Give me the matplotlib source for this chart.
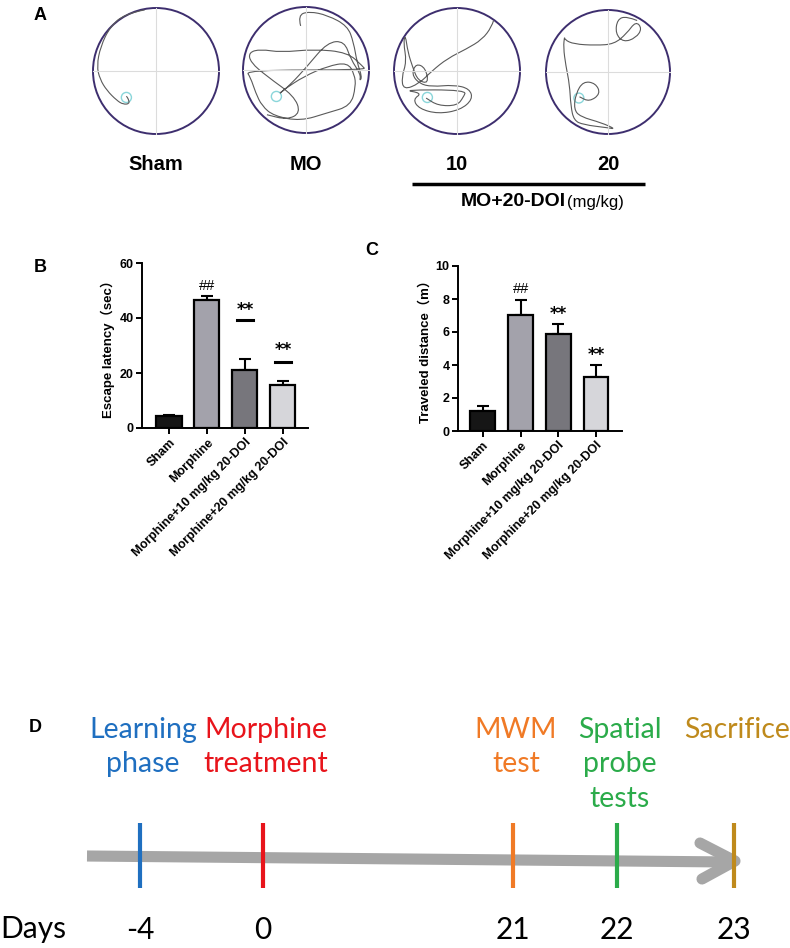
import matplotlib
matplotlib.use('Agg')
import matplotlib.pyplot as plt
from matplotlib.patches import Circle, PathPatch
from matplotlib.path import Path
import numpy as np

# ---- data ----
groups = ['Sham', 'Morphine', 'Morphine+10 mg/kg 20-DOI', 'Morphine+20 mg/kg 20-DOI']
bar_colors = ['#161616', '#a3a2ab', '#77767c', '#d6d6da']

latency = [4.3, 46.5, 21.0, 15.6]
latency_err = [0.4, 1.5, 4.2, 1.5]
latency_sig = ['', '##', '**', '**']
latency_sig_y = [None, 51.5, 43.0, 28.5]
latency_dash_y = [None, None, 39.3, 24.0]

distance = [1.2, 7.05, 5.9, 3.25]
distance_err = [0.3, 0.9, 0.6, 0.75]
distance_sig = ['', '##', '**', '**']
distance_sig_y = [None, 8.6, 7.1, 4.6]

# swim paths (relative to pool centre, radius = 1, y up)
sham_path = [(-0.18, 0.97), (-0.49, 0.91), (-0.73, 0.70), (-0.88, 0.39), (-0.94, 0.08),
             (-0.89, -0.13), (-0.78, -0.31), (-0.62, -0.47), (-0.52, -0.53), (-0.42, -0.52),
             (-0.44, -0.44), (-0.47, -0.40)]
mo_path = [(-0.085, 0.70), (-0.13, 0.87), (0.05, 0.93), (0.34, 0.87), (0.66, 0.70), (0.755, 0.44),
           (0.81, 0.12), (0.89, -0.11), (0.85, -0.18), (0.87, -0.07), (0.71, 0.17), (0.61, 0.46),
           (0.34, 0.44), (0.02, 0.06), (-0.245, -0.23), (-0.45, -0.40), (-0.35, -0.31),
           (-0.03, -0.10), (0.34, 0.06), (0.66, 0.12), (0.77, -0.07), (0.79, -0.26),
           (0.71, -0.57), (0.34, -0.68), (-0.085, -0.81), (-0.51, -0.73), (-0.70, -0.57),
           (-0.80, -0.36), (-0.88, -0.12), (-0.96, 0.0), (0.95, 0.0), (0.90, 0.06), (0.66, 0.28),
           (0.13, 0.33), (-0.40, 0.28), (-0.72, 0.33), (-0.91, 0.28), (-0.88, 0.12),
           (-0.62, -0.10), (-0.19, -0.41), (-0.085, -0.68), (-0.30, -0.79), (-0.62, -0.71)]
ten_path = [(0.58, 0.80), (0.55, 0.70), (0.40, 0.50), (0.15, 0.35), (-0.15, 0.20), (-0.40, 0.00),
            (-0.60, -0.20), (-0.85, -0.30), (-0.88, -0.10), (-0.80, 0.15), (-0.85, 0.45),
            (-0.82, 0.58), (-0.78, 0.30), (-0.70, 0.05), (-0.62, -0.15), (-0.45, -0.20),
            (-0.50, 0.05), (-0.65, 0.12), (-0.72, -0.05), (-0.60, -0.20), (-0.40, -0.25),
            (-0.05, -0.22), (0.20, -0.28), (0.25, -0.45), (0.05, -0.62), (-0.30, -0.68),
            (-0.60, -0.60), (-0.70, -0.45), (-0.55, -0.35), (-0.88, -0.30), (0.15, -0.30),
            (0.10, -0.42), (0.0, -0.55), (-0.30, -0.55), (-0.49, -0.43)]
twenty_path = [(0.47, 0.83), (0.30, 0.90), (0.15, 0.85), (0.12, 0.62), (0.25, 0.48), (0.45, 0.55),
               (0.55, 0.70), (0.45, 0.82), (0.30, 0.62), (0.10, 0.45), (-0.20, 0.43),
               (-0.55, 0.45), (-0.70, 0.52), (-0.70, 0.58), (-0.72, 0.40), (-0.68, 0.10),
               (-0.62, -0.20), (-0.60, -0.55), (-0.55, -0.78), (-0.40, -0.85), (0.0, -0.90),
               (0.12, -0.92), (-0.10, -0.82), (-0.45, -0.72), (-0.55, -0.60), (-0.52, -0.35),
               (-0.40, -0.15), (-0.20, -0.18), (-0.12, -0.35), (-0.30, -0.48), (-0.46, -0.40)]
pool_labels = ['Sham', 'MO', '10', '20']
platform = (-0.47, -0.42)

stage_text = ['Learning\nphase', 'Morphine\ntreatment', 'MWM\ntest', 'Spatial\nprobe\ntests', 'Sacrifice']
stage_colors = ['#1f6fc0', '#e8141b', '#f07a26', '#2bab4a', '#bf8a1c']
stage_days = ['-4', '0', '21', '22', '23']

# ---- layout (pixels) ----
pools = [(156, 71, 63), (306, 70, 63), (457, 71, 63), (608, 72, 62)]
stage_x = [140, 263, 513, 617, 734]

fig = plt.figure(figsize=(7.9, 9.48), dpi=100)
ov = fig.add_axes([0, 0, 1, 1])
ov.set_xlim(0, 790)
ov.set_ylim(948, 0)
ov.axis('off')


def smooth_track(xy):
    # quadratic bezier through the midpoints, the traced points act as control points
    verts = [xy[0]]
    codes = [Path.MOVETO]
    for i in range(1, len(xy) - 1):
        mid = (xy[i] + xy[i + 1]) / 2
        verts += [xy[i], mid]
        codes += [Path.CURVE3, Path.CURVE3]
    verts.append(xy[-1])
    codes.append(Path.LINETO)
    return Path(verts, codes)


# ---- panel A ----
paths = [sham_path, mo_path, ten_path, twenty_path]
for (cx, cy, r), p, lab in zip(pools, paths, pool_labels):
    ov.plot([cx - r, cx + r], [cy, cy], color='#dcdcdc', lw=0.8)
    ov.plot([cx, cx], [cy - r, cy + r], color='#dcdcdc', lw=0.8)
    ov.add_patch(Circle((cx, cy), r, fill=False, ec='#3d2e6e', lw=1.4))
    ov.add_patch(Circle((cx + r * platform[0], cy - r * platform[1]), 0.08 * r,
                        fill=False, ec='#8ad6da', lw=1.0))
    pts = np.array(p)
    xy = np.column_stack([cx + r * pts[:, 0], cy - r * pts[:, 1]])
    ov.add_patch(PathPatch(smooth_track(xy), fill=False, ec='#5a5a5a', lw=0.8))
    ov.text(cx, 164, lab, ha='center', va='center', fontsize=14.5, fontweight='bold',
            family='Liberation Sans')
ov.plot([412, 645], [184, 184], color='black', lw=2.5, solid_capstyle='butt')
ov.text(566, 201, 'MO+20-DOI', ha='right', va='center', fontsize=14, fontweight='bold',
        family='Liberation Sans')
ov.text(567, 202, '(mg/kg)', ha='left', va='center', fontsize=12, family='Liberation Sans')

for t, x, y in [('A', 40, 15), ('B', 40, 268), ('C', 372, 250), ('D', 35, 727)]:
    ov.text(x, y, t, ha='center', va='center', fontsize=13, fontweight='bold',
            family='Liberation Sans')


# ---- panels B, C ----
def bar_panel(rect, vals, errs, ylim, yticks, ylabel, xlim):
    ax = fig.add_axes(rect)
    x = np.arange(len(vals))
    ax.bar(x, vals, width=0.66, color=bar_colors, edgecolor='black', linewidth=1.6, zorder=2)
    ax.errorbar(x, vals, yerr=[np.zeros(len(errs)), errs], fmt='none', ecolor='black',
                elinewidth=1.5, capsize=4.5, capthick=1.5, zorder=1)
    ax.set_xlim(*xlim)
    ax.set_ylim(*ylim)
    ax.set_yticks(yticks)
    ax.set_xticks(x)
    ax.set_xticklabels(groups, rotation=45, ha='right', rotation_mode='anchor',
                       fontsize=9, fontweight='bold', family='Liberation Sans')
    for lab in ax.get_yticklabels():
        lab.set_fontweight('bold')
        lab.set_fontsize(9)
        lab.set_family('Liberation Sans')
    ax.set_ylabel(ylabel, fontsize=9.5, fontweight='bold',
                  family=['Liberation Sans', 'Noto Sans CJK SC'], labelpad=3)
    for s in ['top', 'right']:
        ax.spines[s].set_visible(False)
    for s in ['left', 'bottom']:
        ax.spines[s].set_linewidth(1.4)
    ax.tick_params(width=1.4, length=4, pad=2)
    return ax


def sig_marks(ax, sig, sig_y):
    for i, (s, y) in enumerate(zip(sig, sig_y)):
        if s == '**':
            ax.text(i, y, s, ha='center', va='center', fontsize=12, fontweight='bold',
                    family='DejaVu Sans')
        elif s:
            ax.text(i, y, s, ha='center', va='center', fontsize=10.5, family='Liberation Sans')


axB = bar_panel([142 / 790, 1 - 428 / 948, 166 / 790, 165 / 948], latency, latency_err,
                (0, 60), [0, 20, 40, 60], 'Escape latency（sec）', (-0.71, 3.66))
sig_marks(axB, latency_sig, latency_sig_y)
for i, y in enumerate(latency_dash_y):
    if y is not None:
        axB.plot([i - 0.22, i + 0.22], [y, y], color='black', lw=2.2)

axC = bar_panel([458 / 790, 1 - 431 / 948, 164 / 790, 165 / 948], distance, distance_err,
                (0, 10), [0, 2, 4, 6, 8, 10], 'Traveled distance（m）', (-0.66, 3.69))
sig_marks(axC, distance_sig, distance_sig_y)

# ---- panel D ----
ov.plot([87, 730], [856, 862], color='#a6a6a6', lw=8, solid_capstyle='butt')
ov.plot([700, 735, 702], [843, 861, 879], color='#a6a6a6', lw=8,
        solid_capstyle='round', solid_joinstyle='round')
for x, txt, c, d in zip(stage_x, stage_text, stage_colors, stage_days):
    ov.plot([x, x], [823, 888], color=c, lw=3, solid_capstyle='butt')
    ov.text(x + 3, 717, txt, ha='center', va='top', fontsize=20.5, color=c, family='Lato',
            linespacing=1.4)
    ov.text(x, 930, d, ha='center', va='center', fontsize=21.5, color='black', family='Lato')
ov.text(0, 929, 'Days', ha='left', va='center', fontsize=21.5, color='black', family='Lato')

fig.savefig('out.png', dpi=100)
